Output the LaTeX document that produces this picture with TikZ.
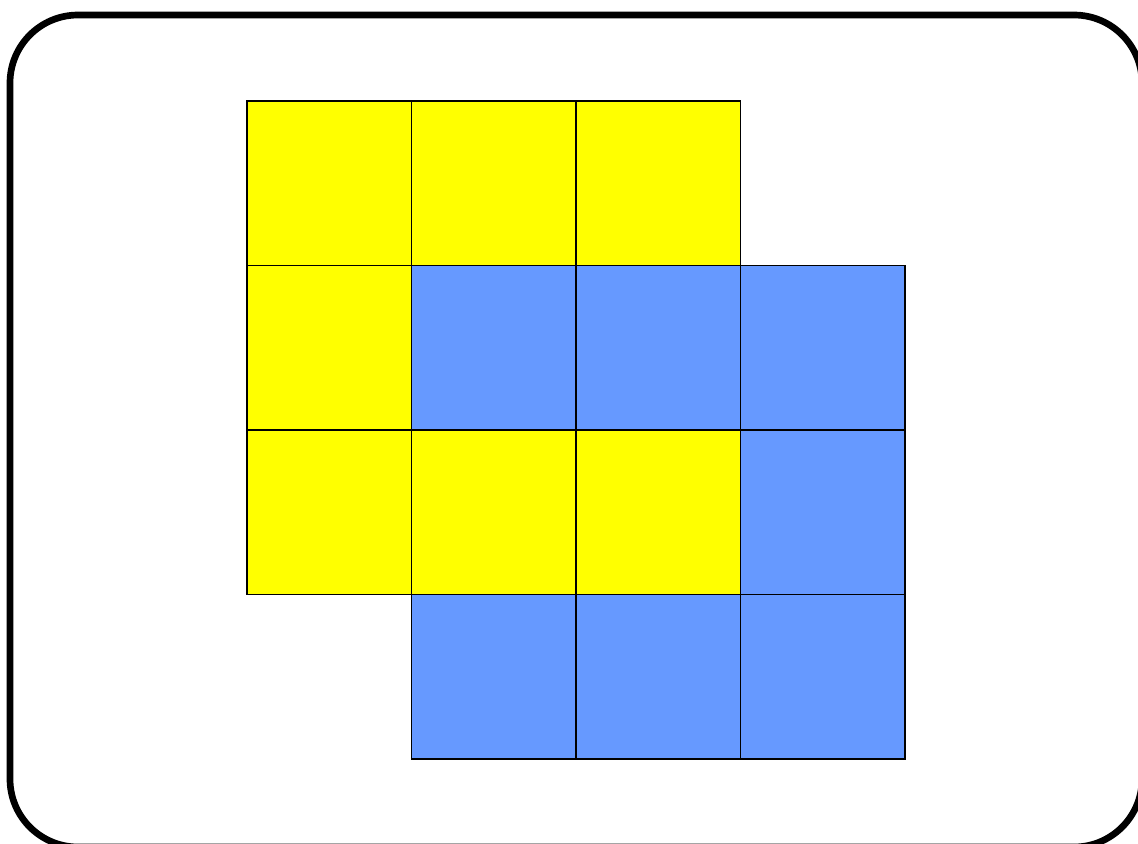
\documentclass[tikz,border=0pt]{standalone}
\usepackage{xcolor}
\definecolor{tileblue}{RGB}{102,153,255}
\definecolor{tileyellow}{RGB}{255,255,0}
\begin{document}
\begin{tikzpicture}[
  x=0.75pt, y=-0.75pt,
  tile/.style={draw=black, line width=0.8pt, minimum size=123.4pt, inner sep=0pt, fill=#1},
  frame/.style={draw=black, line width=5pt, rounded corners=51pt},
]
\useasboundingbox (0,0) rectangle (1138,843);
\clip (0,0) rectangle (1138,843);
%% Outer frame (runs off the right and bottom edge)
\draw[frame] (10,15) rectangle (1142,847);

%% Yellow tiles: column/row
\foreach \c/\r in {0/0,1/0,2/0,0/1,0/2,1/2,2/2}
  \node[tile=tileyellow] (yel-\c-\r) at (329.25+164.5*\c, 183.25+164.5*\r) {};

%% Blue tiles
\foreach \c/\r in {1/1,2/1,3/1,3/2,1/3,2/3,3/3}
  \node[tile=tileblue] (blu-\c-\r) at (329.25+164.5*\c, 183.25+164.5*\r) {};

\end{tikzpicture}
\end{document}
